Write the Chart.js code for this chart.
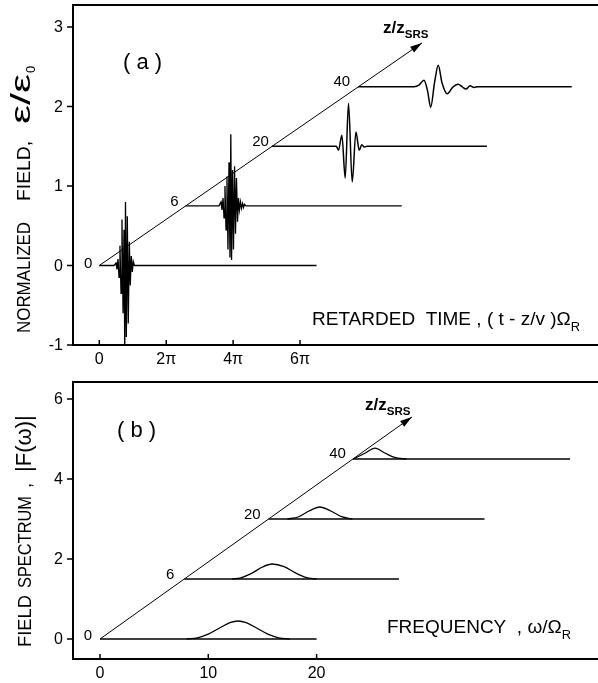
<!DOCTYPE html>
<html><head><meta charset="utf-8">
<script src="https://cdn.jsdelivr.net/npm/chart.js@4.4.1/dist/chart.umd.min.js"></script>
<style>
html,body{margin:0;padding:0;background:#fff;width:598px;height:683px;overflow:hidden}
#ca{position:absolute;left:0;top:0}
#cb{position:absolute;left:0;top:368px}
</style></head><body>
<canvas id="ca" width="598" height="368"></canvas>
<canvas id="cb" width="598" height="315"></canvas>
<script>
// ---------- data ----------
const zLabels = ['0', '6', '20', '40'];

// panel (a): field vs retarded time
const fieldTicks = [-1, 0, 1, 2, 3];
const timeTicks = [0, 2 * Math.PI, 4 * Math.PI, 6 * Math.PI];
const timeTickLabels = ['0', '2\u03C0', '4\u03C0', '6\u03C0'];
const fieldArrow = [[0, 0], [30.3, 2.8]];
const fieldZ0 = [[0, 0], [1.38, 0], [1.57, 0.03], [1.66, -0.05], [1.76, 0.08], [1.85, -0.15], [1.94, 0.25], [2.04, -0.35], [2.13, 0.58], [2.23, -0.6], [2.32, 0.45], [2.39, -1.1], [2.46, 0.8], [2.54, -0.9], [2.63, 0.62], [2.72, -0.73], [2.82, 0.3], [2.91, -0.25], [3.0, 0.12], [3.1, -0.08], [3.19, 0.05], [3.3, 0], [20.4, 0]];
const fieldZ6 = [[8.1, 0.75], [11.24, 0.75], [11.43, 0.8], [11.52, 0.7], [11.62, 0.85], [11.71, 0.6], [11.8, 1.0], [11.9, 0.45], [11.99, 1.12], [12.08, 0.2], [12.18, 1.3], [12.27, 0.1], [12.35, 1.65], [12.42, 0.07], [12.51, 1.2], [12.6, 0.2], [12.7, 1.25], [12.79, 0.4], [12.88, 1.1], [12.98, 0.55], [13.07, 0.85], [13.16, 0.7], [13.26, 0.8], [13.35, 0.72], [13.45, 0.78], [13.54, 0.73], [13.63, 0.77], [13.78, 0.75], [28.4, 0.75]];
const fieldZ20 = [[16.2, 1.5], [21.97, 1.5], [22.25, 1.5], [22.46, 1.45], [22.78, 1.64], [23.09, 1.1], [23.4, 2.04], [23.75, 1.05], [24.1, 1.68], [24.41, 1.45], [24.65, 1.52], [24.88, 1.49], [25.16, 1.5], [36.4, 1.5]];
const fieldZ40 = [[24.3, 2.25], [29.55, 2.25], [30.02, 2.27], [30.49, 2.33], [30.82, 2.2], [31.12, 1.99], [31.48, 2.3], [31.83, 2.52], [32.18, 2.3], [32.68, 2.16], [33.17, 2.24], [33.71, 2.28], [34.06, 2.25], [34.44, 2.22], [34.81, 2.26], [35.18, 2.24], [35.56, 2.25], [44.36, 2.25]];

// panel (b): spectrum vs frequency
const spectrumTicks = [0, 2, 4, 6];
const freqTicks = [0, 10, 20];
const specArrow = [[0, 0], [28.8, 5.55]];
const specOffsets = [0, 1.5, 3, 4.5];
const specStarts = [0, 7.78, 15.57, 23.35];
const specEnds = [20, 27.6, 35.5, 43.4];
const specBumpZ0 = [[8, 0], [9, 0.03], [10, 0.12], [11, 0.27], [12, 0.41], [12.75, 0.45], [13.5, 0.41], [14.5, 0.27], [15.5, 0.12], [16.5, 0.03], [17.5, 0]];
const specBumpZ6 = [[12.2, 1.5], [13, 1.53], [14, 1.64], [15, 1.8], [15.9, 1.875], [17, 1.81], [18, 1.66], [19, 1.54], [20, 1.5]];
const specBumpZ20 = [[17.3, 3], [18.3, 3.05], [19.3, 3.2], [20.3, 3.3], [21.3, 3.2], [22.3, 3.06], [23.3, 3.0]];
const specBumpZ40 = [[23.4, 4.5], [24.5, 4.65], [25.4, 4.77], [26.3, 4.65], [27.2, 4.54], [28.3, 4.5]];

// ---------- helpers ----------
const FONT = '"Liberation Sans", Arial, sans-serif';
const pts = arr => arr.map(p => ({x: p[0], y: p[1]}));

function rich(ctx, x, y, parts, size, align) {
  let w = 0;
  const seg = parts.map(p => {
    const sz = p[1] === 's' ? size * 0.68 : (p[2] || size);
    const f = (p[3] || '') + ' ' + sz + 'px ' + FONT;
    ctx.font = f;
    const mw = ctx.measureText(p[0]).width;
    w += mw;
    return {t: p[0], f, mw, dy: p[1] === 's' ? size * 0.3 : 0};
  });
  let cx = align === 'center' ? x - w / 2 : (align === 'right' ? x - w : x);
  ctx.textAlign = 'left';
  ctx.textBaseline = 'alphabetic';
  for (const s of seg) { ctx.font = s.f; ctx.fillText(s.t, cx, y + s.dy); cx += s.mw; }
}

// text squeezed/stretched to a given run length (lettering of the original)
function fitText(ctx, text, x, y, size, width) {
  ctx.font = size + 'px ' + FONT;
  const w = ctx.measureText(text).width;
  ctx.save();
  ctx.translate(x, y);
  ctx.scale(width / w, 1);
  ctx.textAlign = 'left'; ctx.textBaseline = 'alphabetic';
  ctx.fillText(text, 0, 0);
  ctx.restore();
}

function frameAndTicks(chart, xt, xl, yt) {
  const {ctx, chartArea: a, scales: {x, y}} = chart;
  ctx.save();
  ctx.strokeStyle = '#000';
  ctx.lineWidth = 2;
  ctx.beginPath();
  ctx.moveTo(a.right + 2, a.top); ctx.lineTo(a.left, a.top);
  ctx.lineTo(a.left, a.bottom); ctx.lineTo(a.right + 2, a.bottom);
  ctx.stroke();
  ctx.lineWidth = 1.5;
  ctx.beginPath();
  for (const v of xt) { const p = x.getPixelForValue(v); ctx.moveTo(p, a.bottom); ctx.lineTo(p, a.bottom - 5); }
  for (const v of yt) { const p = y.getPixelForValue(v); ctx.moveTo(a.left, p); ctx.lineTo(a.left - 6, p); }
  ctx.stroke();
  ctx.fillStyle = '#000';
  ctx.font = '16px ' + FONT;
  ctx.textAlign = 'center'; ctx.textBaseline = 'top';
  xt.forEach((v, i) => ctx.fillText(xl ? xl[i] : String(v), x.getPixelForValue(v), a.bottom + 7));
  ctx.textAlign = 'right'; ctx.textBaseline = 'middle';
  yt.forEach(v => ctx.fillText(String(v), a.left - 10, y.getPixelForValue(v) + 1));
  ctx.restore();
}

function arrowHead(chart, arr) {
  const {ctx, scales: {x, y}} = chart;
  const x0 = x.getPixelForValue(arr[0][0]), y0 = y.getPixelForValue(arr[0][1]);
  const x1 = x.getPixelForValue(arr[1][0]), y1 = y.getPixelForValue(arr[1][1]);
  const ang = Math.atan2(y1 - y0, x1 - x0);
  ctx.save();
  ctx.translate(x1, y1); ctx.rotate(ang);
  ctx.fillStyle = '#000';
  ctx.beginPath(); ctx.moveTo(0, 0); ctx.lineTo(-12, -3.5); ctx.lineTo(-12, 3.5); ctx.closePath(); ctx.fill();
  ctx.restore();
}

function zLabelsDraw(chart, starts, offsets, dx, dys) {
  const {ctx, scales: {x, y}} = chart;
  ctx.save();
  ctx.fillStyle = '#000';
  ctx.font = '15px ' + FONT;
  ctx.textAlign = 'right';
  ctx.textBaseline = 'middle';
  zLabels.forEach((t, i) => {
    ctx.fillText(t, x.getPixelForValue(starts[i]) - dx[i], y.getPixelForValue(offsets[i]) + dys[i]);
  });
  ctx.restore();
}

function baseScales(xmin, xmax, ymin, ymax, xt, yt, xh) {
  return {
    x: {
      type: 'linear', min: xmin, max: xmax,
      afterBuildTicks: s => { s.ticks = xt.map(v => ({value: v})); },
      afterFit: s => { s.height = xh; },
      grid: {display: false}, border: {display: false},
      ticks: {display: false}
    },
    y: {
      type: 'linear', min: ymin, max: ymax,
      afterBuildTicks: s => { s.ticks = yt.map(v => ({value: v})); },
      afterFit: s => { s.width = 73; },
      grid: {display: false}, border: {display: false},
      ticks: {display: false}
    }
  };
}

const lineDs = (data, bw, mode) => ({
  data: pts(data), borderColor: '#000', borderWidth: bw, pointRadius: 0,
  fill: false, tension: 0, cubicInterpolationMode: mode || 'default'
});

// ---------- panel (a) ----------
new Chart(document.getElementById('ca'), {
  type: 'line',
  data: {datasets: [
    lineDs(fieldArrow, 1),
    lineDs(fieldZ0, 1.3),
    lineDs(fieldZ6, 1.3),
    lineDs(fieldZ20, 1.5, 'monotone'),
    lineDs(fieldZ40, 1.5, 'monotone')
  ]},
  options: {
    responsive: false, animation: false, events: [],
    layout: {padding: {left: 0, right: 0, top: 5, bottom: 0}},
    plugins: {legend: {display: false}, tooltip: {enabled: false}},
    scales: baseScales(-2.47, 46.83, -1, 3.277, timeTicks, fieldTicks, 23)
  },
  plugins: [{
    id: 'decoA',
    afterDraw(chart) {
      const {ctx} = chart;
      frameAndTicks(chart, timeTicks, timeTickLabels, fieldTicks);
      arrowHead(chart, fieldArrow);
      const fStarts = [fieldZ0[0][0], fieldZ6[0][0], fieldZ20[0][0], fieldZ40[0][0]];
      const fOff = [fieldZ0[0][1], fieldZ6[0][1], fieldZ20[0][1], fieldZ40[0][1]];
      zLabelsDraw(chart, fStarts, fOff, [7, 7, 3, 8], [-2, -4, -4, -5]);
      ctx.save();
      ctx.fillStyle = '#000';
      rich(ctx, 123, 69, [['( a )', 'n', 22]], 22, 'left');
      rich(ctx, 383, 33, [['z/z', 'n', 17, 'bold'], ['SRS', 's', 17, 'bold']], 17, 'left');
      rich(ctx, 312, 325, [['RETARDED  TIME , ( t - z/v )\u03A9', 'n'], ['R', 's']], 19, 'left');
      ctx.translate(30, 0);
      ctx.rotate(-Math.PI / 2);
      fitText(ctx, 'NORMALIZED', -333, 0, 19, 111);
      fitText(ctx, 'FIELD,', -201, 0, 19, 60);
      fitText(ctx, '\u03B5/\u03B5', -124, 0, 27, 50);
      ctx.font = '13px ' + FONT;
      ctx.fillText('0', -73, 5);
      ctx.restore();
    }
  }]
});

// ---------- panel (b) ----------
const bumps = [specBumpZ0, specBumpZ6, specBumpZ20, specBumpZ40];
const dsB = [lineDs(specArrow, 1)];
specOffsets.forEach((o, i) => {
  dsB.push(lineDs([[specStarts[i], o], [specEnds[i], o]], 1.3));
  dsB.push(lineDs(bumps[i], 1.3, 'monotone'));
});
new Chart(document.getElementById('cb'), {
  type: 'line',
  data: {datasets: dsB},
  options: {
    responsive: false, animation: false, events: [],
    layout: {padding: {left: 0, right: 0, top: 14, bottom: 0}},
    plugins: {legend: {display: false}, tooltip: {enabled: false}},
    scales: baseScales(-2.49, 45.98, -0.5, 6.425, freqTicks, spectrumTicks, 24)
  },
  plugins: [{
    id: 'decoB',
    afterDraw(chart) {
      const {ctx} = chart;
      frameAndTicks(chart, freqTicks, null, spectrumTicks);
      arrowHead(chart, specArrow);
      zLabelsDraw(chart, specStarts, specOffsets, [8, 10, 8, 7], [-3, -4, -4, -5]);
      ctx.save();
      ctx.fillStyle = '#000';
      rich(ctx, 117, 437 - 368, [['( b )', 'n', 22]], 22, 'left');
      rich(ctx, 365, 410 - 368, [['z/z', 'n', 17, 'bold'], ['SRS', 's', 17, 'bold']], 17, 'left');
      rich(ctx, 387, 633 - 368, [['FREQUENCY  , \u03C9/\u03A9', 'n'], ['R', 's']], 19, 'left');
      ctx.translate(31, 0);
      ctx.rotate(-Math.PI / 2);
      fitText(ctx, 'FIELD', -(647 - 368), 0, 19, 52);
      fitText(ctx, 'SPECTRUM', -(588 - 368), 0, 19, 92);
      fitText(ctx, ',', -(488 - 368), 0, 19, 5);
      rich(ctx, -(472 - 368), 0, [['|F(\u03C9)|', 'n', 22]], 19, 'left');
      ctx.restore();
    }
  }]
});
</script>
</body></html>
